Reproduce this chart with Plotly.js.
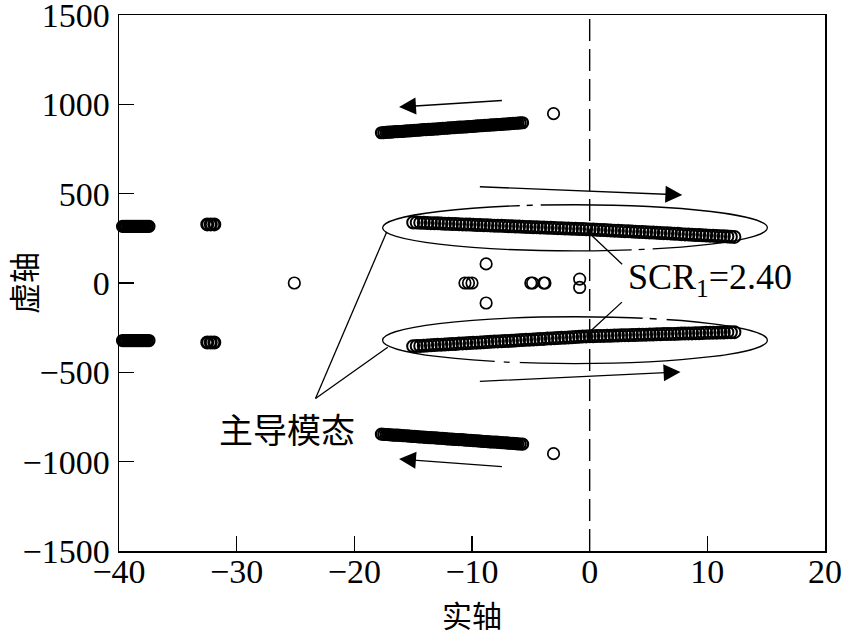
<!DOCTYPE html>
<html>
<head>
<meta charset="utf-8">
<script src="https://cdn.plot.ly/plotly-3.0.1.min.js"></script>
<style>html,body{margin:0;padding:0;background:#fff;} #chart{width:842px;height:639px;}</style>
</head>
<body>
<div id="chart"></div>
<script>
// ---- data ----
// far-left cluster (conjugate pair)
const farLeftX = [-39.7,-39.55,-39.4,-39.25,-39.1,-38.95,-38.8,-38.65,-38.5,-38.35,-38.2,-38.05,-37.9,-37.75,-37.6,-37.45];
const farLeftUpY = [317,317,317,317,317,317,317,317,317,317,317,317,317,317,317,317];
const farLeftLoY = [-322,-322,-322,-322,-322,-322,-322,-322,-322,-322,-322,-322,-322,-322,-322,-322];
// pair near -32
const pairX = [-32.5,-32.2,-31.9];
const pairUpY = [328,328,328];
const pairLoY = [-333,-333,-333];
// scattered single modes
const singleX = [-25.1,-10.6,-10.3,-10.0,-8.8,-8.8,-5.0,-4.85,-3.9,-3.8,-0.85,-0.85,-3.07,-3.07];
const singleY = [0,0,0,0,107,-112,0,0,0,0,22,-25,948,-955];
// upper / lower mode band (around 850-900)
const modeX = [-17.7,-17.5,-17.3,-17.1,-16.9,-16.7,-16.5,-16.3,-16.1,-15.9,-15.7,-15.5,-15.3,-15.1,-14.9,-14.7,-14.5,-14.3,-14.1,-13.9,-13.7,-13.5,-13.3,-13.1,-12.9,-12.7,-12.5,-12.3,-12.1,-11.9,-11.7,-11.5,-11.3,-11.1,-10.9,-10.7,-10.5,-10.3,-10.1,-9.9,-9.7,-9.5,-9.3,-9.1,-8.9,-8.7,-8.5,-8.3,-8.1,-7.9,-7.7,-7.5,-7.3,-7.1,-6.9,-6.7,-6.5,-6.3,-6.1,-5.9,-5.7];
const modeUpY = [841,842,843,844,845,846,847,847,848,849,850,851,852,853,854,855,856,857,858,859,860,860,861,862,863,864,865,866,867,868,869,870,871,872,872,873,874,875,876,877,878,879,880,881,882,883,884,885,885,886,887,888,889,890,891,892,893,894,895,896,897];
const modeLoY = [-846,-847,-848,-849,-850,-851,-852,-852,-853,-854,-855,-856,-857,-858,-859,-860,-861,-862,-863,-864,-865,-865,-866,-867,-868,-869,-870,-871,-872,-873,-874,-875,-876,-877,-877,-878,-879,-880,-881,-882,-883,-884,-885,-886,-887,-888,-889,-890,-890,-891,-892,-893,-894,-895,-896,-897,-898,-899,-900,-901,-902];
// dominant mode band (SCR1 = 2.40)
const domX = [-15.0,-14.7,-14.4,-14.1,-13.8,-13.5,-13.2,-12.9,-12.6,-12.3,-12.0,-11.7,-11.4,-11.1,-10.8,-10.5,-10.2,-9.9,-9.6,-9.3,-9.0,-8.7,-8.4,-8.1,-7.8,-7.5,-7.2,-6.9,-6.6,-6.3,-6.0,-5.7,-5.4,-5.1,-4.8,-4.5,-4.2,-3.9,-3.6,-3.3,-3.0,-2.7,-2.4,-2.1,-1.8,-1.5,-1.2,-0.9,-0.6,-0.3,0.0,0.3,0.6,0.9,1.2,1.5,1.8,2.1,2.4,2.7,3.0,3.3,3.6,3.9,4.2,4.5,4.8,5.1,5.4,5.7,6.0,6.3,6.6,6.9,7.2,7.5,7.8,8.1,8.4,8.7,9.0,9.3,9.6,9.9,10.2,10.5,10.8,11.1,11.4,11.7,12.0,12.3];
const domUpY = [339,338,337,337,336,335,334,334,333,332,331,330,330,329,328,327,327,326,325,324,323,323,322,321,320,320,319,318,317,316,316,315,314,313,312,312,311,310,309,309,308,307,306,305,305,304,303,302,302,301,300,299,298,297,296,295,294,293,292,291,290,289,288,287,286,285,284,283,282,281,280,279,278,277,276,275,273,272,271,270,269,268,267,266,265,264,263,262,261,260,259,258];
const domLoY = [-354,-353,-352,-351,-350,-348,-347,-346,-345,-344,-343,-342,-341,-339,-338,-337,-336,-335,-334,-333,-332,-330,-329,-328,-327,-326,-325,-324,-323,-322,-320,-319,-318,-317,-316,-315,-314,-313,-311,-310,-309,-308,-307,-306,-305,-304,-302,-301,-300,-299,-298,-298,-297,-296,-296,-295,-295,-294,-294,-293,-292,-292,-291,-291,-290,-290,-289,-288,-288,-287,-287,-286,-286,-285,-285,-284,-283,-283,-282,-282,-281,-281,-280,-279,-279,-278,-278,-277,-277,-276,-276,-275];
// axis ticks
const xTicks = [-40,-30,-20,-10,0,10,20];
const yTicks = [-1500,-1000,-500,0,500,1000,1500];

// ---- drawing ----
function ringTrace(x, y, size, lw){
  return {x:x, y:y, type:'scatter', mode:'markers', cliponaxis:false, hoverinfo:'x+y',
          marker:{symbol:'circle-open', size:size, color:'#000', line:{width:lw, color:'#000'}}};
}
function solidTrace(x, y, size, lw, fill){
  return {x:x, y:y, type:'scatter', mode:'lines+markers', cliponaxis:false, hoverinfo:'x+y',
          line:{color:'#000', width:fill},
          marker:{symbol:'circle-open', size:size, color:'#000', line:{width:lw, color:'#000'}}};
}
const data = [
  solidTrace(farLeftX, farLeftUpY, 11, 2.2, 8), solidTrace(farLeftX, farLeftLoY, 11, 2.2, 8),
  ringTrace(pairX, pairUpY, 11, 3), ringTrace(pairX, pairLoY, 11, 3),
  ringTrace(singleX, singleY, 11.5, 1.7),
  solidTrace(modeX, modeUpY, 11, 2.2, 8), solidTrace(modeX, modeLoY, 11, 2.2, 8),
  ringTrace(domX, domUpY, 12, 2.0), ringTrace(domX, domLoY, 12, 2.0)
];

const serif = 'Liberation Serif, Times New Roman, serif';
const cjk = 'Noto Sans CJK SC, sans-serif';
const ln = (x0,y0,x1,y1,extra) => Object.assign({type:'line', xref:'x', yref:'y', x0:x0, y0:y0, x1:x1, y1:y1, line:{color:'#000', width:1.3}}, extra||{});
const gap = (x0,x1,y) => ({type:'line', xref:'x', yref:'y', x0:x0, x1:x1, y0:y, y1:y, line:{color:'#fff', width:3.5}});

const shapes = [
  ln(0,-1500,0,1500,{line:{color:'#000', width:1.4, dash:'22px,8px'}}),
  {type:'circle', xref:'x', yref:'y', x0:-17.6, x1:15.1, y0:180, y1:438, line:{color:'#000', width:1.3}},
  {type:'circle', xref:'x', yref:'y', x0:-17.6, x1:15.1, y0:-451, y1:-189, line:{color:'#000', width:1.3}},
  // broken (dash-dot) parts of the ellipses
  gap(-5.94,-5.35,435), gap(-4.84,-4.16,436),
  gap(3.57,4.16,189), gap(4.67,5.35,187),
  gap(4.50,5.10,-201), gap(5.69,6.54,-203),
  gap(-8.07,-7.30,-441), gap(-6.80,-5.94,-444),
  ln(-23.3,-646,-17.24,287),
  ln(-23.3,-646,-17.16,-360),
  ln(2.76,105,0.2,264),
  ln(2.74,-107,0.06,-270)
];

const arrow = (x,y,ax,ay) => ({x:x, y:y, ax:ax, ay:ay, xref:'x', yref:'y', axref:'x', ayref:'y', text:'', showarrow:true, arrowhead:2, arrowsize:2.6, arrowwidth:1.3, arrowcolor:'#000'});

const annotations = [
  arrow(-16.2,985,-7.33,1022),
  arrow(-16.2,-985,-7.33,-1028),
  arrow(7.87,493,-9.46,539),
  arrow(7.72,-498,-9.46,-551),
  {x:-25.7, y:-815, xref:'x', yref:'y', text:'主导模态', showarrow:false, font:{family:cjk, size:34, color:'#000'}},
  {x:10.2, y:22, xref:'x', yref:'y', text:'SCR<sub>1</sub>=2.40', showarrow:false, font:{family:serif, size:36, color:'#000'}}
];

const layout = {
  width:842, height:639,
  margin:{l:119, r:17, t:15, b:88},
  paper_bgcolor:'#fff', plot_bgcolor:'#fff',
  showlegend:false,
  xaxis:{range:[-40,20], tickvals:xTicks, ticks:'inside', ticklen:15, tickwidth:1.3, tickcolor:'#000',
         showline:true, linecolor:'#000', linewidth:1.5, mirror:true, showgrid:false, zeroline:false,
         tickfont:{family:serif, size:34, color:'#000'}, ticklabelstandoff:-10, ticklabeloverflow:'allow',
         title:{text:'实轴', font:{family:cjk, size:30, color:'#000'}, standoff:16}},
  yaxis:{range:[-1500,1500], tickvals:yTicks, ticks:'inside', ticklen:15, tickwidth:1.3, tickcolor:'#000',
         showline:true, linecolor:'#000', linewidth:1.5, mirror:true, showgrid:false, zeroline:false,
         tickfont:{family:serif, size:34, color:'#000'}, ticklabelstandoff:1, ticklabeloverflow:'allow',
         title:{text:'虚轴', font:{family:cjk, size:31, color:'#000'}, standoff:28}},
  shapes:shapes,
  annotations:annotations
};

Plotly.newPlot('chart', data, layout, {displayModeBar:false, staticPlot:true});
</script>
</body>
</html>
